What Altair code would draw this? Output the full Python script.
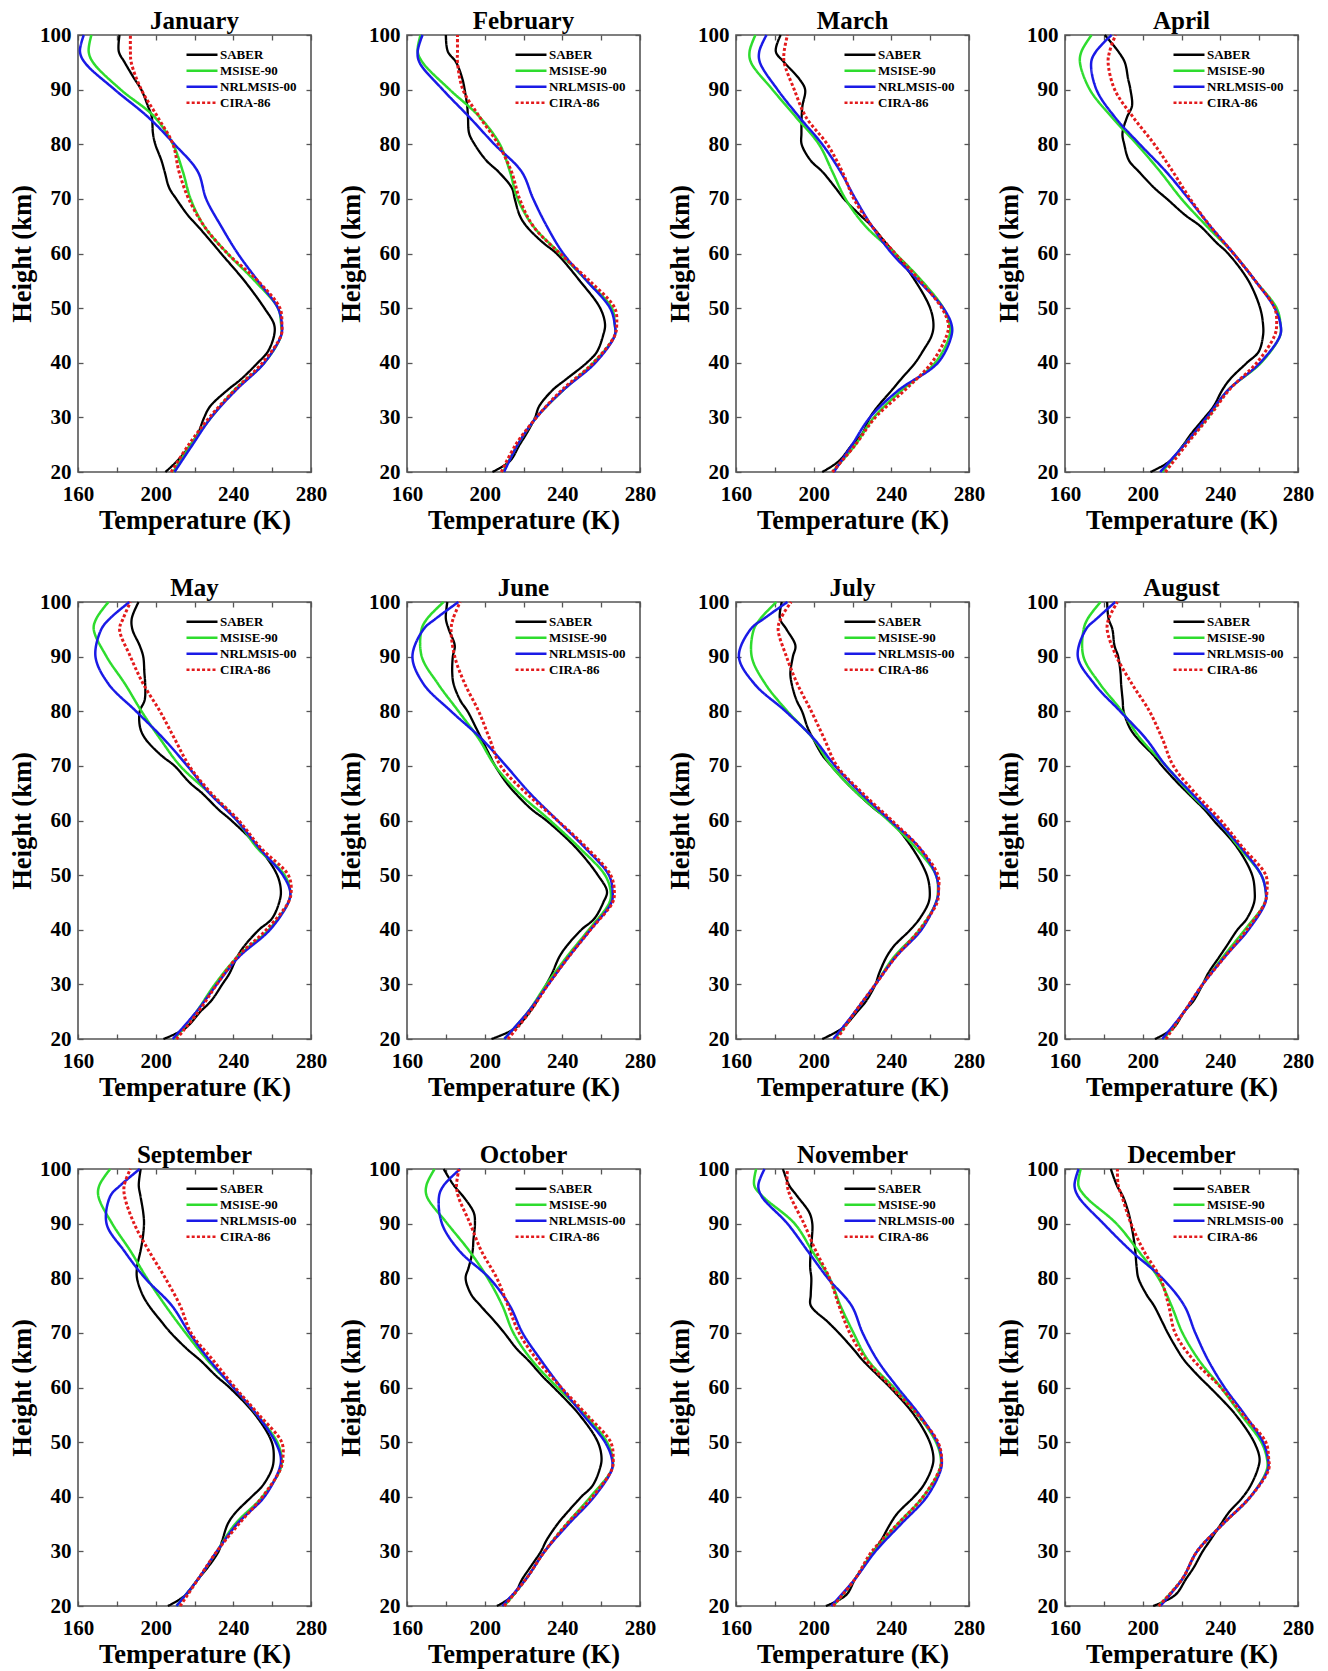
import altair as alt
import pandas as pd

MONTHS = ["January", "February", "March", "April", "May", "June",
          "July", "August", "September", "October", "November", "December"]
MODELS = ["SABER", "MSISE-90", "NRLMSIS-00", "CIRA-86"]
COLORS = ["#000000", "#2edc2e", "#1a1ae6", "#e31a1c"]
DASHES = [[1, 0], [1, 0], [1, 0], [3, 2.2]]

X_TICKS = [160, 180, 200, 220, 240, 260, 280]
Y_TICKS = [20, 30, 40, 50, 60, 70, 80, 90, 100]

# heights (km) of the SABER profile points and of the model profile points
H_SABER = [20, 22, 25, 27, 30, 32, 35, 37, 40, 42, 45, 47, 50, 55, 60, 62,
           65, 67, 70, 72, 75, 77, 80, 82, 85, 87, 90, 92, 95, 97, 100]
H_MODEL = [20, 25, 30, 35, 40, 45, 47, 50, 55, 60, 65, 70, 75, 80, 85, 90,
           95, 97, 100]

# temperatures (K)
JAN_SABER = [205, 211, 218, 221.7, 225, 228, 237, 244, 252.6, 257.7, 261, 261, 256, 245.7, 233.7, 229,
             221.7, 216.6, 210.6, 207, 204.6, 203, 199.8, 198.6, 198, 196, 192.6, 189, 184, 181, 181.4]
JAN_MSISE = [209, 218, 228.6, 240.6, 256, 264.6, 264.6, 263, 251, 237, 225, 218, 214, 208.9, 199.4, 182,
             167.7, 165.5, 166.9]
JAN_NRL = [209.7, 219, 228.6, 241.4, 256, 264.6, 265, 263, 252.6, 242.3, 233.7, 226, 221.7, 209.7, 196,
           178.9, 163.4, 161, 163]
JAN_CIRA = [208, 217, 227.7, 240.6, 255, 264.6, 265, 264, 252.6, 237, 225, 217, 212, 208.9, 201, 192.6,
            187.4, 187, 187]

FEB_SABER = [204, 213, 218, 221.5, 226, 228, 235, 242, 252.6, 257.8, 261, 262, 259.5, 249, 237, 230,
             221.5, 218, 215.5, 214, 207, 200.9, 194.8, 192, 191.4, 191, 189.7, 188.5, 185.3, 181, 180]
FEB_MSISE = [209.5, 217, 226.7, 240.5, 256, 267, 267, 265.5, 252.6, 238.8, 225, 217, 213, 207.8, 197.4,
             182, 168, 165.5, 167]
FEB_NRL = [210, 217, 226.7, 240.5, 257, 267, 267, 264.6, 252.6, 240.5, 232, 225, 219, 205, 192, 178.4,
           166.4, 165.5, 168]
FEB_CIRA = [208.6, 216, 226.7, 239.7, 256, 267, 268, 267, 254, 238.8, 225, 218, 213.8, 207, 197.4, 188.8,
            186, 186, 186]

MAR_SABER = [204.4, 213, 219.8, 225, 229, 233, 240.3, 245, 252.3, 256, 260.8, 261.7, 260, 252.3, 242, 237,
             230, 224, 215.6, 211.3, 204.4, 198.5, 193.8, 193.7, 193.8, 194.2, 195.6, 192.5, 184.8, 180.5, 183]
MAR_MSISE = [209.6, 221.5, 231, 245.5, 262.6, 270, 270, 266.8, 255.7, 242, 226.7, 216.4, 209.6, 202.7,
             190.8, 178.8, 167.7, 167, 170]
MAR_NRL = [210.4, 219.8, 229, 243.8, 264, 271, 271, 266.8, 254, 240.3, 230, 221.5, 213.8, 204.4, 192.5,
           181.4, 172.3, 172, 175.7]
MAR_CIRA = [209.6, 221.5, 231.8, 247, 260.8, 268.5, 269.4, 266, 254.9, 242, 230, 220.7, 214.7, 207, 196,
            190, 184.8, 184.8, 186.5]

APR_SABER = [204, 214, 221, 225, 232, 236.5, 241, 245, 253.7, 259.7, 262, 262, 260.5, 254.5, 244, 238,
             229.7, 222, 212.5, 206, 198, 193, 190.5, 189.6, 192, 194.5, 193.7, 192.5, 190.8, 187.4, 180.5]
APR_MSISE = [210, 221.5, 233.5, 244, 261, 270.8, 271, 269, 258, 246.8, 233, 220, 209, 197, 184, 172.8,
             167.7, 168.5, 173.7]
APR_NRL = [209, 221.5, 233, 244, 260.5, 270.8, 271, 268, 258, 246.8, 234.8, 223.7, 212, 198.5, 185.6,
           176.2, 173.5, 176, 184]
APR_CIRA = [211.7, 222.5, 234, 244.5, 258.8, 268, 269, 268, 258, 246.8, 234.8, 224.5, 215.5, 206, 195,
            185.6, 182.2, 183, 186]

MAY_SABER = [204, 215.4, 223, 228.6, 234.3, 238, 241.9, 245.6, 253.2, 259.8, 263.6, 264.5, 262.6, 253.2,
             239, 232.4, 223.9, 217.3, 209.7, 202.6, 194.6, 192, 191.8, 194.3, 194.6, 194.2, 193.6, 191.8,
             188, 187.7, 191.2]
MAY_MSISE = [209.7, 221, 230.5, 242, 258.2, 268.3, 269.3, 266.4, 252.2, 241.9, 227.7, 212.6, 202.2, 192.7,
             184.2, 174.7, 168.1, 169.5, 175.7]
MAY_NRL = [208.8, 221, 231.5, 242.8, 258.9, 268.3, 269.3, 265.5, 253.2, 241.9, 227.7, 216.3, 204, 189.9,
           175.7, 169, 172, 176.5, 186.5]
MAY_CIRA = [210.7, 222, 231.5, 241.9, 257, 268.3, 269.8, 268.3, 254.1, 242.8, 228.6, 217.3, 209.7, 202.2,
            193.6, 187, 181.4, 183.3, 187]

JUN_SABER = [203.5, 215.8, 223.3, 227.1, 231.8, 234.7, 238.4, 242.2, 249.8, 256.4, 261.1, 263, 258.3, 247,
             231.8, 224.3, 215.8, 211, 205.4, 202.5, 198.3, 195.5, 191.2, 187.4, 184, 183.3, 183.6, 184.6,
             181.5, 180, 180.8]
JUN_MSISE = [210.1, 222.4, 231.8, 242.2, 253.6, 264.3, 264.9, 262, 248.8, 233.7, 217.7, 205.4, 196.9,
             186.5, 176, 167.6, 167.5, 170.5, 178.9]
JUN_NRL = [210.1, 222.4, 232.8, 243.2, 254.5, 265.3, 265.9, 264, 251.7, 237.5, 223.3, 211, 198.3, 182.7,
           168.5, 162.8, 168.5, 175, 186.5]
JUN_CIRA = [212, 223.3, 232.8, 243.2, 254.5, 265.9, 266.8, 264.9, 252.6, 237.5, 221.4, 208.2, 202.5, 196.9,
            189.8, 184.6, 182.7, 183.8, 187.4]

JUL_SABER = [204.4, 214.8, 222.4, 227.1, 231.8, 233.7, 237.5, 241.3, 249.8, 254.5, 259.2, 259.8, 258.3,
             250.7, 239.4, 231.8, 222.4, 216.7, 209.1, 204.4, 199.7, 196.9, 194, 191.2, 188.7, 188, 189.3,
             190.6, 186, 182.6, 183.6]
JUL_MSISE = [211, 221.4, 231.8, 241.3, 254.5, 263, 264, 263, 252.6, 238.5, 222.4, 209.1, 199.7, 186.5,
             175.1, 168.1, 169.2, 172.7, 180.8]
JUL_NRL = [210.1, 221.4, 231.8, 242.2, 255.5, 263, 264.3, 263, 254.5, 239.4, 224.3, 211, 200, 185.5, 169.5,
           161.5, 167.5, 174.6, 186.5]
JUL_CIRA = [212, 221.4, 231.8, 242.2, 254.5, 263.6, 264.3, 264, 254.5, 240.3, 225.2, 212, 205.4, 198.8,
            191.6, 186, 181.7, 183.1, 188.4]

AUG_SABER = [206.3, 215.8, 221.4, 226.2, 230.9, 233.7, 239.4, 243.2, 248.8, 253.6, 257.4, 257.7, 256.4,
             248.8, 236.6, 231.8, 223.3, 217.7, 210, 205.4, 197.3, 193.3, 190.2, 189.7, 188.9, 188.6, 187.4,
             185.5, 184.4, 182.4, 181.7]
AUG_MSISE = [211, 221.4, 230.9, 241.3, 252.6, 263, 263.4, 261.1, 249.8, 238.5, 224.3, 212, 198.8, 189.3,
             178, 169.5, 169.6, 171.8, 178.3]
AUG_NRL = [210.1, 221.4, 230.9, 242.2, 254.5, 263.2, 263.4, 261.1, 250.7, 238.5, 225.2, 212, 201.6, 188.4,
           175.1, 166.6, 170.8, 176.5, 185.9]
AUG_CIRA = [212, 221.4, 230.9, 242.2, 253.6, 263, 264, 263.4, 251.7, 240.3, 227.1, 215.8, 210.1, 203.5,
            194.5, 186.5, 181.7, 182.6, 187]

SEP_SABER = [206.3, 215.4, 222, 226.7, 232.4, 234.3, 237.1, 240.9, 249.4, 255, 259.8, 260.8, 259.8, 251.3,
             238, 231.5, 222.9, 216.3, 207.8, 203.1, 196.5, 193.2, 190.4, 190.4, 192.2, 193.2, 194, 193.6,
             192.2, 191.3, 192.3]
SEP_MSISE = [210.7, 222, 231.5, 240.9, 255, 264.2, 264.9, 262.6, 252.2, 240, 226.7, 215.4, 205, 195.5,
             187, 177.6, 170.5, 171, 176.6]
SEP_NRL = [210.7, 222, 231.5, 241.9, 256, 263.6, 264.5, 261.7, 252.2, 240, 227.7, 217.3, 208.3, 194.6,
           183.8, 174.7, 176.6, 181.8, 191.8]
SEP_CIRA = [212.6, 222, 231.5, 242.8, 255, 264.2, 265.5, 264.9, 253.2, 240.9, 229.6, 218.2, 212.6, 205,
            196.5, 188.9, 184, 183.8, 187]

OCT_SABER = [206.3, 214.8, 219.5, 223.3, 229, 231.8, 237.5, 242.2, 249.8, 255.5, 259.2, 260.2, 258.3,
             248.8, 235.6, 229.9, 222.4, 216.7, 210.1, 205.4, 197.8, 193.1, 190.2, 191.8, 193.8, 194.2, 195,
             194.4, 188.9, 184.1, 178.9]
OCT_MSISE = [210.1, 221.4, 230.9, 242.2, 254.5, 265.5, 265.9, 263, 251.7, 237.5, 224.3, 214.8, 209.1,
             201.6, 192.1, 180.8, 170.2, 170, 174.2]
OCT_NRL = [209.1, 221.4, 230.9, 243.2, 256.4, 265.5, 265.5, 262, 250.7, 239.4, 229, 219.5, 212.9, 202.5,
           187, 178, 176.5, 178.9, 187.4]
OCT_CIRA = [210.1, 221.4, 230.9, 242.2, 255.5, 265.5, 266.2, 264.9, 252.6, 239.4, 227.1, 217.7, 212,
            206.3, 198.3, 192.5, 186.4, 185.5, 186.8]

NOV_SABER = [206.3, 216.7, 221.4, 225.2, 230.9, 234.7, 239.4, 243.2, 251.7, 256.4, 260.6, 261.7, 259.8,
             251.7, 239.4, 233.7, 225.2, 220.5, 212.9, 207.3, 198.5, 198.5, 198.8, 198.2, 198.5, 199, 199.3,
             197.8, 191.6, 187.4, 184.2]
NOV_MSISE = [210.1, 221.4, 230.9, 243.2, 256.4, 264.9, 265.5, 263, 253.6, 241.3, 228, 220.5, 213.8, 208.2,
             199.2, 190.2, 173.7, 169.4, 170.4]
NOV_NRL = [209.1, 221.4, 231.8, 245, 258.3, 265.5, 265.9, 263.6, 254.5, 243.2, 232.8, 225.2, 219.5, 207.3,
           196.9, 186.5, 173.2, 171.5, 174.7]
NOV_CIRA = [210.1, 221.4, 230, 243.2, 256.4, 264.9, 265.9, 264, 253.6, 240.3, 227.1, 218.6, 213, 208.2,
            201.1, 195, 188, 186.4, 186.5]

DEC_SABER = [205.4, 216.7, 222.4, 226.2, 230.9, 234.7, 240.3, 244.1, 251.7, 255.5, 259.2, 260.2, 257.4,
             247.9, 234.7, 229, 221.4, 217.7, 212.9, 210.1, 205.8, 202, 197.8, 196.9, 196.2, 195.5, 194,
             192.7, 189.8, 186.7, 183.6]
DEC_MSISE = [208.2, 220.5, 228, 241.3, 255.5, 264, 264, 261.1, 250.7, 240.3, 229, 220.5, 214.8, 208.2,
             197.8, 186.5, 170.4, 166.9, 168.1]
DEC_NRL = [209.1, 220.5, 228, 241.3, 255.5, 264.5, 264.5, 262, 252.6, 242.2, 233.7, 227.1, 221.4, 210.1,
           194, 179.8, 166.8, 164.9, 167]
DEC_CIRA = [208.2, 220.5, 228, 241.3, 255.5, 264.9, 264.9, 263.4, 251.7, 240.3, 226.2, 216.7, 213.4,
            209.1, 200.6, 194, 189.3, 187.4, 187]

PROFILES = [
    (JAN_SABER, JAN_MSISE, JAN_NRL, JAN_CIRA),
    (FEB_SABER, FEB_MSISE, FEB_NRL, FEB_CIRA),
    (MAR_SABER, MAR_MSISE, MAR_NRL, MAR_CIRA),
    (APR_SABER, APR_MSISE, APR_NRL, APR_CIRA),
    (MAY_SABER, MAY_MSISE, MAY_NRL, MAY_CIRA),
    (JUN_SABER, JUN_MSISE, JUN_NRL, JUN_CIRA),
    (JUL_SABER, JUL_MSISE, JUL_NRL, JUL_CIRA),
    (AUG_SABER, AUG_MSISE, AUG_NRL, AUG_CIRA),
    (SEP_SABER, SEP_MSISE, SEP_NRL, SEP_CIRA),
    (OCT_SABER, OCT_MSISE, OCT_NRL, OCT_CIRA),
    (NOV_SABER, NOV_MSISE, NOV_NRL, NOV_CIRA),
    (DEC_SABER, DEC_MSISE, DEC_NRL, DEC_CIRA),
]

FONT = "Liberation Serif"
FRAME = "#555555"


def month_frame(profiles):
    rows = []
    for name, temps in zip(MODELS, profiles):
        heights = H_SABER if name == "SABER" else H_MODEL
        for h, t in zip(heights, temps):
            rows.append({"model": name, "height": h, "temp": t})
    return pd.DataFrame(rows)


x_scale = alt.Scale(domain=[160, 280], nice=False, zero=False)
y_scale = alt.Scale(domain=[20, 100], nice=False, zero=False)

legend = alt.Legend(
    title=None, orient="none", legendX=107, legendY=12, padding=0,
    symbolType="stroke", symbolSize=961, symbolStrokeWidth=2.5,
    labelFont=FONT, labelFontSize=13, labelFontWeight="bold", labelColor="black",
    labelOffset=1, rowPadding=0, clipHeight=15.5,
)
color_enc = alt.Color("model:N", scale=alt.Scale(domain=MODELS, range=COLORS), legend=legend)
dash_enc = alt.StrokeDash("model:N", scale=alt.Scale(domain=MODELS, range=DASHES), legend=legend)

# ticks point inward: each axis is pulled 5px into the plot, ticks 5px long
x_bottom = alt.X("temp:Q", scale=x_scale, title="Temperature (K)", axis=alt.Axis(
    values=X_TICKS, labelExpr="datum.value % 40 == 0 ? datum.label : ''",
    offset=-5, tickSize=5, domain=False, grid=False, labelPadding=11,
    labelFlush=False, labelOverlap=False, titlePadding=3))
y_left = alt.Y("height:Q", scale=y_scale, title="Height (km)", axis=alt.Axis(
    values=Y_TICKS, offset=-5, tickSize=5, domain=False, grid=False,
    labelPadding=7, labelFlush=False, labelOverlap=False, titlePadding=3))
x_top = alt.X("temp:Q", scale=x_scale, title=None, axis=alt.Axis(
    orient="top", values=X_TICKS, labels=False, offset=-5, tickSize=5,
    domain=False, grid=False, minExtent=0))
y_right = alt.Y("height:Q", scale=y_scale, title=None, axis=alt.Axis(
    orient="right", values=Y_TICKS, labels=False, offset=-5, tickSize=5,
    domain=False, grid=False, minExtent=0))

WIDTHS = {"SABER": 2.3, "MSISE-90": 2.5, "NRLMSIS-00": 2.5, "CIRA-86": 3}


def panel(month, profiles):
    base = alt.Chart(month_frame(profiles))
    lines = [
        base.transform_filter(alt.datum.model == m)
        .mark_line(strokeWidth=WIDTHS[m], interpolate="catmull-rom")
        .encode(x=x_bottom, y=y_left, color=color_enc, strokeDash=dash_enc,
                order=alt.Order("height:Q"))
        for m in MODELS
    ]
    box = (
        base.transform_filter(alt.datum.model == "SABER")
        .mark_point(opacity=0)
        .encode(x=x_top, y=y_right)
    )
    return (
        alt.layer(alt.layer(*lines), box)
        .resolve_axis(x="independent", y="independent")
        .properties(width=233, height=437, title=month)
    )


panels = [panel(m, p) for m, p in zip(MONTHS, PROFILES)]

chart = (
    alt.concat(*panels, columns=4, spacing={"row": 130, "column": 96}, bounds="flush")
    .resolve_legend(color="independent", strokeDash="independent")
    .properties(padding={"left": 0, "top": 0, "right": 0, "bottom": 0})
    .configure_view(stroke=FRAME, strokeWidth=1.6)
    .configure_axis(
        labelFont=FONT, labelFontSize=21, labelFontWeight="bold", labelColor="black",
        titleFont=FONT, titleFontSize=26.5, titleFontWeight="bold", titleColor="black",
        tickColor=FRAME, tickWidth=1.3,
    )
    .configure_title(font=FONT, fontSize=25, fontWeight="bold", color="black", offset=-10)
)

chart.save("out.html", embed_options={"renderer": "svg", "actions": False})
